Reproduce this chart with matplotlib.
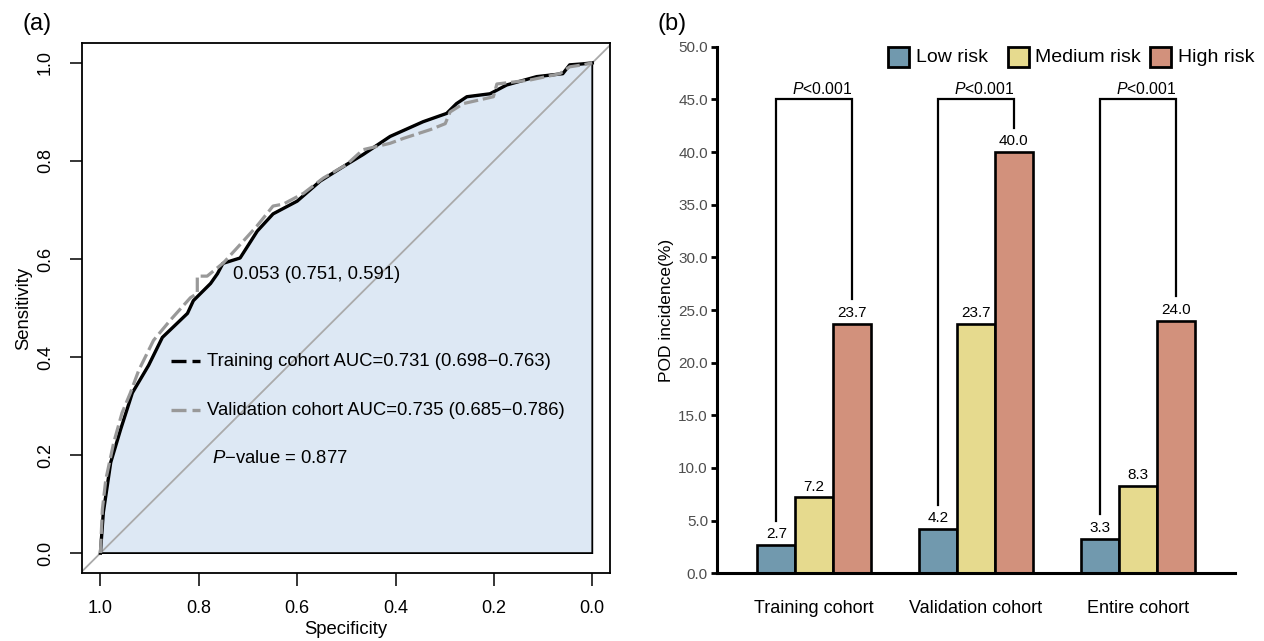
import matplotlib
matplotlib.use('Agg')
import matplotlib.pyplot as plt
import numpy as np
from matplotlib.patches import Polygon, Rectangle

plt.rcParams['font.family'] = 'Liberation Sans'
plt.rcParams['mathtext.fontset'] = 'custom'
plt.rcParams['mathtext.rm'] = 'Liberation Sans'
plt.rcParams['mathtext.it'] = 'Liberation Sans:italic'
plt.rcParams['axes.unicode_minus'] = False

# ROC curves (1 - specificity, sensitivity)
train_fpr = [0, .006, .021, .041, .065, .098, .126, .177, .189, .224, .238, .249, .284, .319,
             .351, .400, .447, .501, .534, .589, .656, .704, .724, .745, .792, .826, .887, .940,
             .954, .980, 1]
train_sens = [0, .083, .185, .252, .327, .383, .440, .489, .515, .550, .570, .591, .602, .657,
              .692, .718, .759, .793, .813, .850, .880, .897, .917, .931, .937, .955, .972, .978,
              .996, .998, 1]
valid_fpr = [0, .004, .011, .027, .044, .061, .078, .108, .142, .183, .197, .197, .217, .250,
             .291, .318, .351, .372, .413, .453, .501, .534, .589, .616, .671, .701, .711, .738,
             .799, .806, .873, .934, .954, .980, 1]
valid_sens = [0, .089, .150, .225, .286, .327, .373, .434, .475, .521, .530, .565, .565, .592,
              .637, .667, .708, .712, .734, .765, .793, .823, .836, .846, .864, .876, .900, .917,
              .931, .957, .965, .978, .992, .996, 1]

# bar chart data
cohorts = ['Training cohort', 'Validation cohort', 'Entire cohort']
risk_groups = ['Low risk', 'Medium risk', 'High risk']
low_risk = [2.7, 4.2, 3.3]
medium_risk = [7.2, 23.7, 8.3]
high_risk = [23.7, 40.0, 24.0]
bar_colors = ['#7199AE', '#E6DA8E', '#D2917C']

W, H = 1264, 641
fig = plt.figure(figsize=(W / 100, H / 100), dpi=100)


def fx(px):
    return px / W


def fy(py):
    return (H - py) / H


# ---------------- panel (a) ----------------
ax1 = fig.add_axes([fx(81.7), fy(572.7), (610 - 81.7) / W, (572.7 - 43.3) / H])
train_spec = [1 - v for v in train_fpr]
valid_spec = [1 - v for v in valid_fpr]

poly = list(zip(train_spec, train_sens)) + [(0, 0)]
ax1.add_patch(Polygon(poly, closed=True, facecolor='#DDE8F4', edgecolor='black', lw=1.3, zorder=1))
ax1.axline((1, 0), (0, 1), color='#AAAAAA', lw=1.3, zorder=2)
ax1.plot(train_spec, train_sens, color='black', lw=2.4, zorder=3)
ax1.plot(valid_spec, valid_sens, color='#999999', lw=2.3, dashes=(4.5, 1.5), zorder=4)

ax1.set_xlim(1.038, -0.036)
ax1.set_ylim(-0.04, 1.04)
ticks = [0, 0.2, 0.4, 0.6, 0.8, 1.0]
ax1.set_xticks(ticks)
ax1.set_xticklabels([f'{t:.1f}' for t in ticks])
ax1.set_yticks(ticks)
ax1.set_yticklabels([f'{t:.1f}' for t in ticks], rotation=90, va='center')
ax1.tick_params(length=9, width=1.1, labelsize=13, pad=11)
for s in ax1.spines.values():
    s.set_linewidth(1.3)

ax1.text(0.731, 0.568, '0.053 (0.751, 0.591)', fontsize=13.3, ha='left', va='center', zorder=5)
ax1.plot([0.857, 0.798], [0.391, 0.391], color='black', lw=2.4, dashes=(4.5, 1.8))
ax1.text(0.784, 0.391, 'Training cohort AUC=0.731 (0.698\u22120.763)', fontsize=13.3,
         ha='left', va='center')
ax1.plot([0.857, 0.798], [0.291, 0.291], color='#999999', lw=2.4, dashes=(4.5, 1.8))
ax1.text(0.784, 0.291, 'Validation cohort AUC=0.735 (0.685\u22120.786)', fontsize=13.3,
         ha='left', va='center')
ax1.text(0.774, 0.193, '$P$\u2212value = 0.877', fontsize=13.3, ha='left', va='center')

fig.text(fx(346), fy(630), 'Specificity', fontsize=13.3, ha='center', va='center')
fig.text(fx(24), fy(308), 'Sensitivity', fontsize=13.3, ha='center', va='center', rotation=90)
fig.text(fx(37), fy(24), '(a)', fontsize=17, ha='center', va='center')

# ---------------- panel (b) ----------------
ax2 = fig.add_axes([fx(717), fy(573.3), (1235 - 717) / W, (573.3 - 46.7) / H])
x = np.arange(1, len(cohorts) + 1)
bw = 0.7 / 3
series = [low_risk, medium_risk, high_risk]
for i, (vals, col, name) in enumerate(zip(series, bar_colors, risk_groups)):
    xs = x + (i - 1) * bw
    ax2.bar(xs, vals, width=bw, color=col, edgecolor='black', lw=1.9, label=name, zorder=2)
    for xi, v in zip(xs, vals):
        ax2.annotate(f'{v:.1f}', (xi, v), xytext=(0, 4.8), textcoords='offset points',
                     ha='center', va='baseline', fontsize=11)

# significance brackets
for xi, lo, hi in zip(x, low_risk, high_risk):
    xl, xr = xi - bw, xi + bw
    ax2.plot([xl, xl, xr, xr], [lo + 2.3, 45, 45, hi + 2.3], color='black', lw=1.6,
             solid_joinstyle='miter', zorder=3)
    ax2.annotate('$P$<0.001', (xi + 0.05, 45), xytext=(0, 3.7), textcoords='offset points',
                 ha='center', va='baseline', fontsize=11.3)

ax2.set_xlim(0.4, 3.6)
ax2.set_ylim(0, 50)
ax2.set_yticks(np.arange(0, 51, 5))
ax2.set_yticklabels([f'{v:.1f}' for v in np.arange(0, 51, 5)])
ax2.set_xticks(x)
ax2.set_xticklabels(cohorts)
ax2.tick_params(axis='y', length=4, width=2, labelsize=11, labelcolor='#4D4D4D', pad=2.5)
ax2.tick_params(axis='x', length=0, labelsize=13, pad=19)
ax2.spines['top'].set_visible(False)
ax2.spines['right'].set_visible(False)
ax2.spines['left'].set_linewidth(2.2)
ax2.spines['bottom'].set_linewidth(2.2)
fig.text(fx(667), fy(310), 'POD incidence(%)', fontsize=12.5, ha='center', va='center',
         rotation=90)
fig.text(fx(672), fy(24), '(b)', fontsize=17, ha='center', va='center')

# legend drawn by hand
leg_box_x = [888, 1008, 1150]
leg_text_x = [916, 1035, 1178]
for bx, tx, col, name in zip(leg_box_x, leg_text_x, bar_colors, risk_groups):
    fig.add_artist(Rectangle((fx(bx), fy(67.3)), 21 / W, 20.6 / H, facecolor=col,
                             edgecolor='black', lw=2, transform=fig.transFigure))
    fig.text(fx(tx), fy(57), name, fontsize=14, ha='left', va='center')

fig.savefig('out.png', dpi=100)
